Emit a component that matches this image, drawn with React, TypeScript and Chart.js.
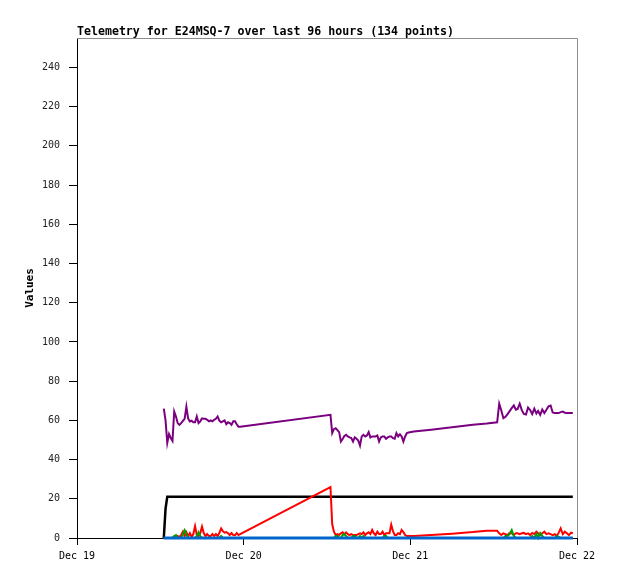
import React, { useEffect, useRef } from "react";
import { Chart, registerables } from "chart.js";

Chart.register(...registerables);

const TITLE = "Telemetry for E24MSQ-7 over last 96 hours (134 points)";
const Y_TITLE = "Values";
const X_TICK_HOURS = [0, 24, 48, 72];
const X_TICK_LABELS = ["Dec 19", "Dec 20", "Dec 21", "Dec 22"];
const Y_TICKS = [0, 20, 40, 60, 80, 100, 120, 140, 160, 180, 200, 220, 240];
const Y_MAX = 255;

// hours since Dec 19 00:00
const hours = [
  12.5, 12.75, 13, 13.25, 13.5, 13.75, 14, 14.25, 14.5, 14.75, 15, 15.25, 15.5, 15.75, 16,
  16.25, 16.5, 16.75, 17, 17.25, 17.5, 17.75, 18, 18.25, 18.5, 18.75, 19, 19.25, 19.5, 19.75,
  20, 20.25, 20.5, 20.75, 21, 21.25, 21.5, 21.75, 22, 22.25, 22.5, 22.75, 23, 23.25, 23.5,
  36.5, 36.75, 37, 37.25, 37.5, 37.75, 38, 38.25, 38.5, 38.75, 39, 39.25, 39.5, 39.75, 40,
  40.25, 40.5, 40.75, 41, 41.25, 41.5, 41.75, 42, 42.25, 42.5, 42.75, 43, 43.25, 43.5, 43.75,
  44, 44.25, 44.5, 44.75, 45, 45.25, 45.5, 45.75, 46, 46.25, 46.5, 46.75, 47, 47.25, 47.5, 47.75,
  48.5, 51, 54, 57, 59,
  60.5, 60.8, 61.1, 61.4, 61.7, 62.0, 62.3, 62.6, 62.9, 63.2, 63.45, 63.75, 64.05, 64.35, 64.65,
  64.95, 65.25, 65.55, 65.85, 66.15, 66.4, 66.7, 67.0, 67.3, 67.6, 67.9, 68.2, 68.5, 68.8, 69.1,
  69.35, 69.65, 69.95, 70.25, 70.55, 70.85, 71.15, 71.4,
];

const purple = [
  66, 60, 48.5, 53, 51, 49.5, 64.5, 62, 58.6, 57.7, 58.6, 59.7, 60.8, 67, 61,
  59.4, 59.8, 59, 59, 62, 58.6, 59.5, 61, 60.8, 60.8, 60.3, 59.5, 60, 59.5, 60.3,
  60.8, 62, 59.8, 59, 59.5, 60, 58, 59, 58.6, 57.7, 59.5, 59.5, 58, 56.8, 56.8,
  62.8, 53.5, 55.5, 56, 55, 54, 49.2, 50.5, 52, 52.6, 51.8, 51.3, 51, 49.2, 51.3,
  50.6, 49.7, 47.1, 51.8, 52.6, 51.8, 52.3, 54, 51.3, 51.8, 51.8, 51.8, 52.3, 49.2, 51.3,
  51.8, 51.8, 50.6, 51.3, 51.8, 51.8, 50.9, 50.6, 53.5, 51.8, 52.9, 51.8, 49.2, 51.8, 53.5, 53.8,
  54.3, 55.2, 56.5, 57.8, 58.4,
  59, 68.5, 65, 61.1, 61.8, 63.2, 64.7, 66.2, 67.6, 65.4, 65.8, 68.5, 65.2, 63.3, 63,
  66.5, 65.3, 63.2, 66, 63.5, 64.8, 62.8, 65.5, 63.7, 65.4, 67.2, 67.6, 64, 63.7, 63.7,
  63.7, 64.2, 64.5, 63.9, 63.7, 63.7, 63.7, 63.7,
];

const black = [
  0, 15, 21, 21, 21, 21, 21, 21, 21, 21, 21, 21, 21, 21, 21,
  21, 21, 21, 21, 21, 21, 21, 21, 21, 21, 21, 21, 21, 21, 21,
  21, 21, 21, 21, 21, 21, 21, 21, 21, 21, 21, 21, 21, 21, 21,
  21, 21, 21, 21, 21, 21, 21, 21, 21, 21, 21, 21, 21, 21, 21,
  21, 21, 21, 21, 21, 21, 21, 21, 21, 21, 21, 21, 21, 21, 21,
  21, 21, 21, 21, 21, 21, 21, 21, 21, 21, 21, 21, 21, 21, 21, 21,
  21, 21, 21, 21, 21,
  21, 21, 21, 21, 21, 21, 21, 21, 21, 21, 21, 21, 21, 21, 21,
  21, 21, 21, 21, 21, 21, 21, 21, 21, 21, 21, 21, 21, 21, 21,
  21, 21, 21, 21, 21, 21, 21, 21,
];

const red = [
  0, 0, 0, 0, 0, 0, 0.7, 0, 1, 0.5, 1.5, 3.2, 1, 3, 1,
  2.5, 0.5, 2, 6, 1.5, 1, 2.5, 5.8, 2.5, 1, 2, 1, 1, 2, 1,
  2, 1, 2.5, 4.9, 3.5, 2.7, 3, 2.4, 1.5, 2.5, 1.5, 1.4, 2.5, 1.5, 2,
  26, 7, 3.2, 1.5, 2, 1.5, 2.4, 2.9, 2, 2.9, 2, 1.5, 2, 1.5, 1.5,
  1.5, 2, 2.4, 2, 2.9, 1.5, 2.4, 2.9, 2, 4.1, 2.4, 1.5, 3.2, 2, 2,
  3.2, 1.5, 2.4, 2.4, 2.4, 6.8, 3.5, 1.5, 1.5, 2.4, 2, 4.1, 3, 1.5, 1, 1,
  1, 1.5, 2.2, 3, 3.7,
  3.7, 2.4, 1.5, 2.4, 2, 1.5, 2.6, 2.4, 1.5, 2.4, 2.4, 2, 2.4, 2.6, 2,
  2.4, 1.5, 2.6, 2, 3.2, 2.4, 1.5, 2.4, 3.2, 2, 2.4, 2, 1.5, 2, 1,
  2.6, 4.9, 2, 3.2, 2.4, 1.5, 2.7, 2.4,
];

const green = [
  0, 0, 0, 0, 0, 0, 1, 1.5, 0, 0, 0, 2, 4, 2, 0,
  0, 0, 0, 0, 1, 3, 1, 0, 0, 0, 0, 0, 0, 0, 0,
  0, 0, 0, 1, 0, 0, 0, 0, 0, 0, 0, 0, 0, 0, 0,
  0, 0, 0, 1, 1, 0, 0, 1.5, 2, 1, 0, 0, 0, 1, 1,
  0, 0, 1, 0, 1, 0, 0, 0, 0, 0, 0, 0, 0, 0, 0,
  0, 1, 1, 0, 0, 0, 0, 0, 0, 0, 0, 0, 0, 0, 0, 0,
  0, 0, 0, 0, 0,
  0, 0, 0, 0, 1, 1, 2, 4.1, 1, 0, 0, 0, 0, 0, 0,
  0, 0, 1, 0, 2, 0, 2.5, 1, 0, 0, 0, 0, 0, 0, 1,
  0.5, 0, 0, 0, 0, 0, 0, 0,
];

const blue = hours.map(() => 0);

const MONO = '"DejaVu Sans Mono", "Liberation Mono", monospace';

function pts(vals: number[]) {
  return hours.map((h, i) => ({ x: h, y: vals[i] }));
}

export default function App() {
  const ref = useRef<HTMLCanvasElement | null>(null);

  useEffect(() => {
    if (!ref.current) return;
    const framePlugin = {
      id: "frame",
      beforeDatasetsDraw(chart: any) {
        const { ctx, chartArea } = chart;
        const { left, right, top, bottom } = chartArea;
        ctx.save();
        ctx.strokeStyle = "#8c8c8c";
        ctx.lineWidth = 1;
        ctx.beginPath();
        ctx.moveTo(Math.round(left), Math.round(top) + 0.5);
        ctx.lineTo(Math.round(right) + 0.5, Math.round(top) + 0.5);
        ctx.lineTo(Math.round(right) + 0.5, Math.round(bottom));
        ctx.stroke();
        ctx.restore();
      },
      afterDraw(chart: any) {
        const { ctx, chartArea } = chart;
        ctx.save();
        ctx.fillStyle = "#000";
        ctx.font = `bold 11.6px ${MONO}`;
        ctx.textAlign = "left";
        ctx.textBaseline = "alphabetic";
        ctx.fillText(TITLE, chartArea.left, chartArea.top - 3);
        ctx.restore();
      },
    };

    const common = { pointRadius: 0, borderWidth: 2, tension: 0, fill: false, clip: 6 };
    const chart = new Chart(ref.current, {
      type: "line",
      data: {
        datasets: [
          { ...common, label: "blue", data: pts(blue), borderColor: "#0066cc", borderWidth: 3 },
          { ...common, label: "green", data: pts(green), borderColor: "#00a000" },
          { ...common, label: "red", data: pts(red), borderColor: "#ff0000" },
          { ...common, label: "black", data: pts(black), borderColor: "#000000", borderWidth: 2.5 },
          { ...common, label: "purple", data: pts(purple), borderColor: "#7a0080" },
        ],
      },
      options: {
        responsive: false,
        animation: false,
        parsing: false as any,
        layout: { padding: { left: 0, right: 41, top: 38, bottom: 0 } },
        plugins: { legend: { display: false }, tooltip: { enabled: false }, title: { display: false } },
        scales: {
          x: {
            type: "linear",
            min: 0,
            max: 72,
            afterBuildTicks: (s: any) => {
              s.ticks = X_TICK_HOURS.map((v) => ({ value: v }));
            },
            afterFit: (s: any) => {
              s.height = 41;
            },
            ticks: {
              autoSkip: false,
              maxRotation: 0,
              padding: 5,
              color: "#000",
              font: { family: MONO, size: 10 },
              callback: (v: any) => X_TICK_LABELS[X_TICK_HOURS.indexOf(Number(v))] ?? "",
            },
            grid: { drawOnChartArea: false, drawTicks: true, tickLength: 7, color: "#000" },
            border: { color: "#000", width: 1 },
          },
          y: {
            type: "linear",
            min: 0,
            max: Y_MAX,
            afterBuildTicks: (s: any) => {
              s.ticks = Y_TICKS.map((v) => ({ value: v }));
            },
            afterFit: (s: any) => {
              s.width = 77;
            },
            ticks: {
              padding: 9,
              color: "#222",
              font: { family: MONO, size: 10 },
              callback: (v: any) => String(v),
            },
            grid: { drawOnChartArea: false, drawTicks: true, tickLength: 8, color: "#000" },
            border: { color: "#000", width: 1 },
            title: {
              display: true,
              text: Y_TITLE,
              color: "#000",
              font: { family: MONO, size: 11, weight: "bold" },
              padding: { top: 24, bottom: 0 },
            },
          },
        },
      },
      plugins: [framePlugin],
    } as any);
    return () => chart.destroy();
  }, []);

  return (
    <div style={{ position: "fixed", left: 0, top: 0, width: 618, height: 579, background: "#fff" }}>
      <canvas ref={ref} width={618} height={579} style={{ display: "block" }} />
    </div>
  );
}
